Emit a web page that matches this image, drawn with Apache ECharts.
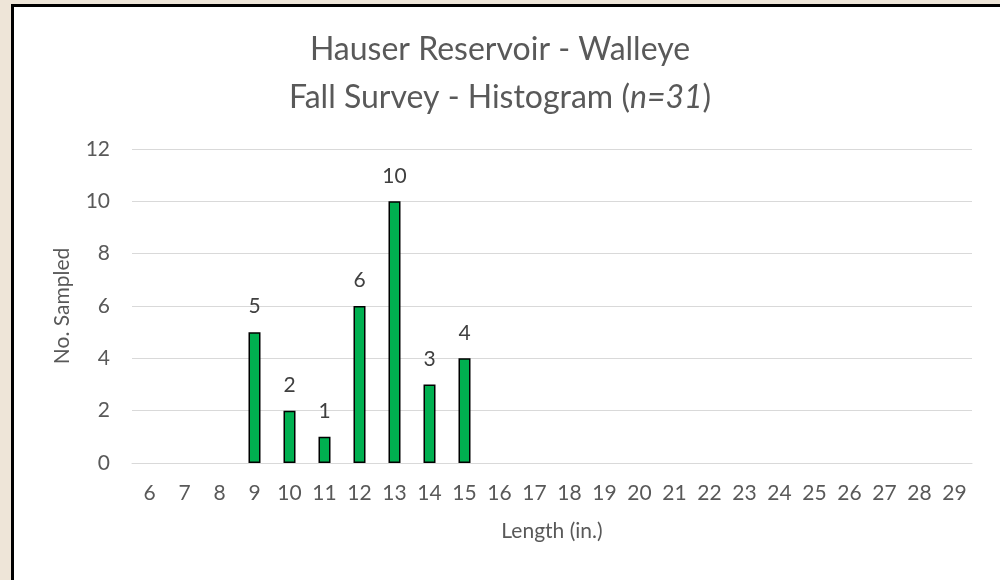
<!DOCTYPE html>
<html>
<head>
<meta charset="utf-8">
<script src="https://cdn.jsdelivr.net/npm/echarts@6/dist/echarts.min.js"></script>
<style>
html,body{margin:0;padding:0;width:1000px;height:580px;overflow:hidden;background:#EEE5D8;}
#frame{position:absolute;left:11px;top:4px;width:1000px;height:600px;background:#fff;border-left:3px solid #000;border-top:3px solid #000;}
#chart{position:absolute;left:0;top:0;width:1000px;height:580px;}
</style>
</head>
<body>
<div id="frame"></div>
<div id="chart"></div>
<script>
const categories = ['6','7','8','9','10','11','12','13','14','15','16','17','18','19','20','21','22','23','24','25','26','27','28','29'];
const counts = [null,null,null,5,2,1,6,10,3,4,null,null,null,null,null,null,null,null,null,null,null,null,null,null];
const yTicks = [0,2,4,6,8,10,12];

const chart = echarts.init(document.getElementById('chart'), null, {renderer:'canvas'});
const font = 'Lato, Open Sans, sans-serif';
chart.setOption({
  backgroundColor: 'transparent',
  animation: false,
  title: {
    left: 'center',
    top: 21,
    text: 'Hauser Reservoir - Walleye\n{a|Fall Survey - Histogram (}{i|n=31}{a|)}',
    textStyle: {
      fontFamily: font, fontSize: 32, fontWeight: 'normal', color: '#595959', lineHeight: 48,
      rich: {
        a: {fontFamily: font, fontSize: 32, color: '#595959', lineHeight: 48},
        i: {fontFamily: font, fontSize: 32, color: '#595959', fontStyle: 'italic', lineHeight: 48}
      }
    }
  },
  grid: {left: 132, right: 28, top: 149, bottom: 117, containLabel: false},
  xAxis: {
    type: 'category',
    data: categories,
    name: 'Length (in.)',
    nameLocation: 'middle',
    nameGap: 58,
    nameTextStyle: {fontFamily: font, fontSize: 21, color: '#595959'},
    axisLine: {show: true, lineStyle: {color: '#D9D9D9', width: 1}},
    axisTick: {show: false},
    axisLabel: {fontFamily: font, fontSize: 21, color: '#595959', margin: 20, interval: 0}
  },
  yAxis: {
    type: 'value',
    min: yTicks[0],
    max: yTicks[yTicks.length-1],
    interval: 2,
    name: 'No. Sampled',
    nameLocation: 'middle',
    nameGap: 59,
    nameRotate: 90,
    nameTextStyle: {fontFamily: font, fontSize: 21, color: '#595959'},
    axisLine: {show: false},
    axisTick: {show: false},
    splitLine: {lineStyle: {color: '#D9D9D9', width: 1}},
    axisLabel: {fontFamily: font, fontSize: 21, color: '#595959', margin: 22}
  },
  series: [{
    type: 'bar',
    data: counts,
    barWidth: 12,
    itemStyle: {color: '#00B050', borderColor: '#000', borderWidth: 1.5},
    label: {show: true, position: 'top', distance: 15, fontFamily: font, fontSize: 21, color: '#404040'}
  }]
});
</script>
</body>
</html>
